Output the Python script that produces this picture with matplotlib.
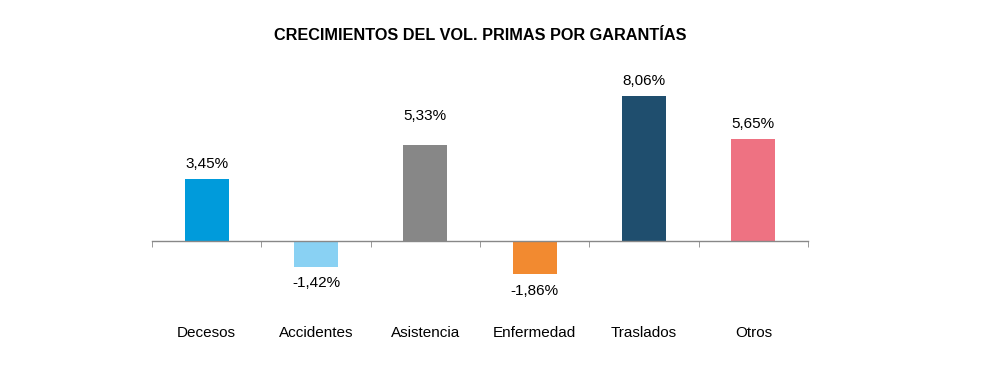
import matplotlib
matplotlib.use("Agg")
import matplotlib.pyplot as plt
import numpy as np

categories = ["Decesos", "Accidentes", "Asistencia", "Enfermedad", "Traslados", "Otros"]
values = [3.45, -1.42, 5.33, -1.86, 8.06, 5.65]
labels = ["3,45%", "-1,42%", "5,33%", "-1,86%", "8,06%", "5,65%"]
colors = ["#009BDB", "#89D1F3", "#878787", "#F28A30", "#1F4E6E", "#EE7282"]
title = "CRECIMIENTOS DEL VOL. PRIMAS POR GARANTÍAS"
# extra label lift in points (label of Asistencia sits higher in the original)
label_nudge = [0, 0, 10, 0, 0, 0]

plt.rcParams['font.family'] = ['Liberation Sans', 'DejaVu Sans']

fig = plt.figure(figsize=(9.97, 3.67), dpi=100)
ax = fig.add_axes([152/997, 36/367, 656/997, 270/367])

x = np.arange(len(categories))
bars = ax.bar(x, values, width=0.4, color=colors)
ax.set_xlim(-0.5, len(categories) - 0.5)
ax.set_ylim(-5, 10)

for b, v, lab, nd in zip(bars, values, labels, label_nudge):
    cx = b.get_x() + b.get_width() / 2
    if v >= 0:
        ax.annotate(lab, (cx, v), xytext=(0, 6 + nd), textcoords="offset points",
                    ha="center", va="bottom", fontsize=11)
    else:
        ax.annotate(lab, (cx, v), xytext=(0, -7 - nd), textcoords="offset points",
                    ha="center", va="top", fontsize=11)

for s in ["top", "right", "left"]:
    ax.spines[s].set_visible(False)
ax.spines["bottom"].set_position(("data", 0))
ax.spines["bottom"].set_color("#888888")
ax.spines["bottom"].set_linewidth(1)
ax.set_yticks([])
ax.set_xticks(x)
ax.set_xticklabels(categories, fontsize=11)
ax.tick_params(axis="x", which="major", length=0, pad=61)
ax.set_xticks(np.arange(len(categories) + 1) - 0.5, minor=True)
ax.tick_params(axis="x", which="minor", length=4, color="#888888", direction="out")

fig.text(480/997, 1 - 35/367, title, ha="center", va="center",
         fontsize=11.7, fontweight="bold")

fig.savefig("out.png", dpi=100)
